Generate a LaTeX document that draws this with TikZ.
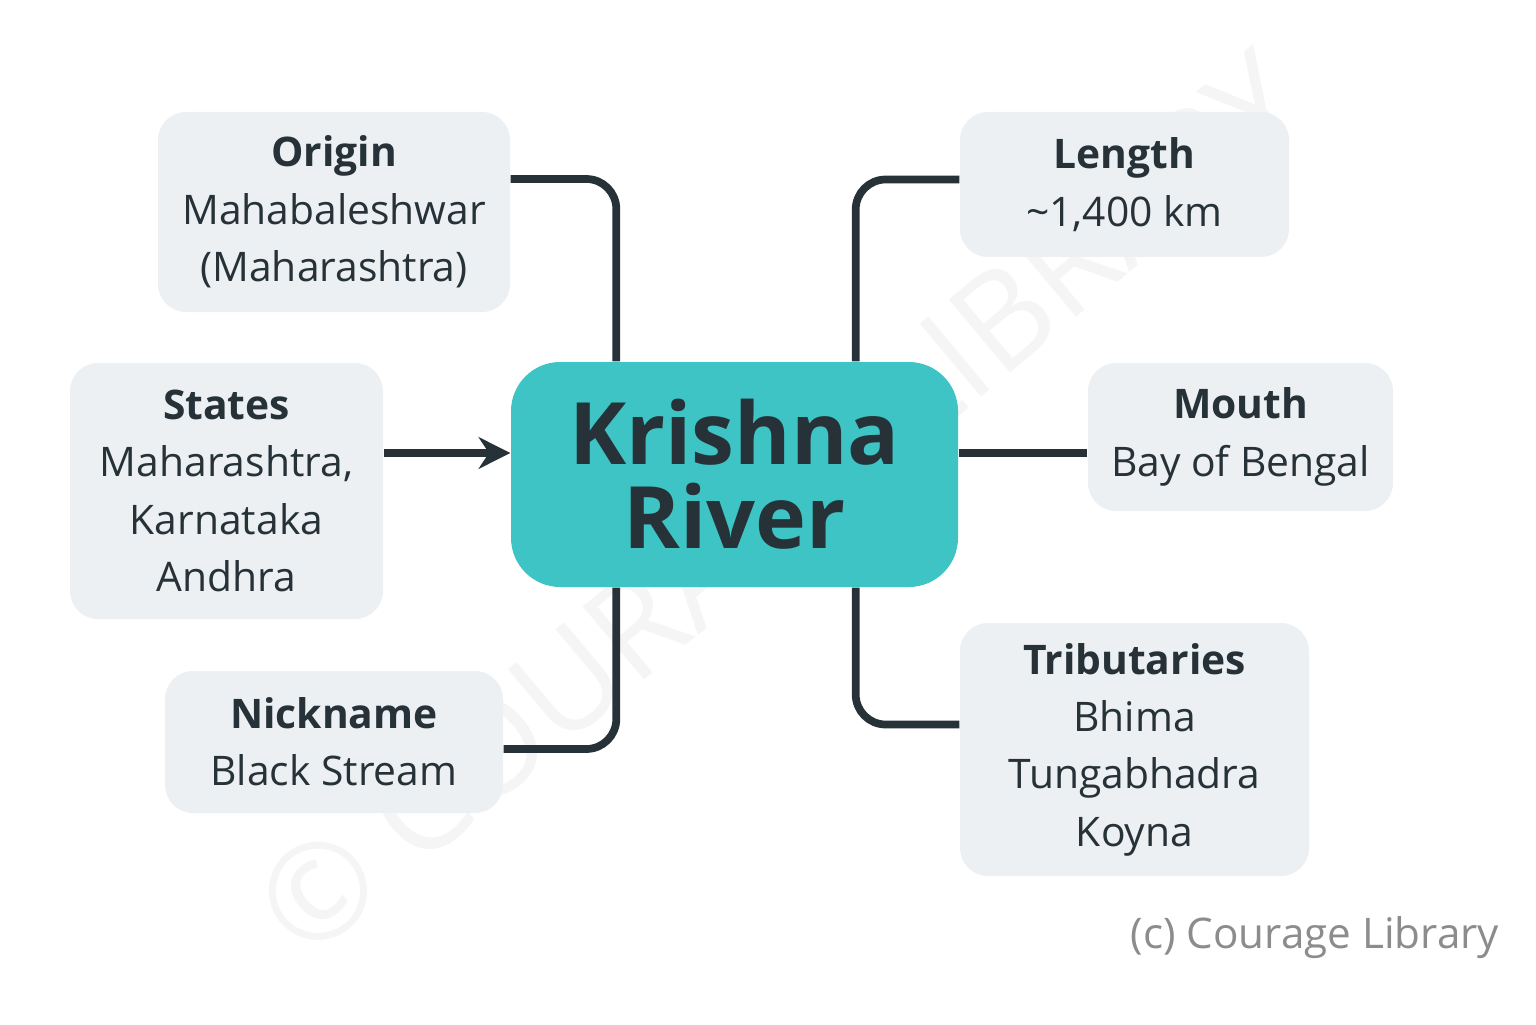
\documentclass[tikz,border=0pt]{standalone}
\usepackage{fontspec}
\setmainfont{Open Sans}
\usetikzlibrary{arrows.meta}
\definecolor{boxfill}{HTML}{ECF0F3}
\definecolor{teal}{HTML}{3EC4C4}
\definecolor{ink}{HTML}{263238}
\begin{document}
\begin{tikzpicture}[
    info/.style={rectangle, rounded corners=8pt, fill=boxfill, align=center, text=ink, font=\fontsize{11.6}{16.3}\selectfont},
    hub/.style={rectangle, rounded corners=14pt, fill=teal, align=center, text=ink, font=\fontsize{24.5}{24}\selectfont\bfseries},
    link/.style={line width=2.2pt, draw=ink, rounded corners=0.3cm},
    arrow/.style={link, -{Stealth[length=9pt,width=9pt]}}
]
\useasboundingbox[fill=white] (0,0) rectangle (15.36,10.24);
% Watermark
\node[rotate=40, text=black!4, font=\fontsize{38}{38}\selectfont] (mark) at (7.8,5.2) {\textcopyright\ COURAGE LIBRARY};

% Center
\node[hub, minimum width=4.47cm, minimum height=2.25cm] (river) at (7.345,5.495) {Krishna\\River};

% Info boxes
\node[info, minimum width=3.52cm, minimum height=2.0cm] (origin) at (3.34,8.12) {\textbf{Origin}\\Mahabaleshwar\\(Maharashtra)};
\node[info, minimum width=3.13cm, minimum height=2.56cm] (states) at (2.265,5.33) {\textbf{States}\\Maharashtra,\\Karnataka\\Andhra};
\node[info, minimum width=3.38cm, minimum height=1.42cm] (nick) at (3.34,2.82) {\textbf{Nickname}\\Black Stream};
\node[info, minimum width=3.29cm, minimum height=1.45cm] (length) at (11.245,8.395) {\textbf{Length}\\\textasciitilde1,400 km};
\node[info, minimum width=3.05cm, minimum height=1.48cm] (mouth) at (12.405,5.87) {\textbf{Mouth}\\Bay of Bengal};
\node[info, minimum width=3.49cm, minimum height=2.53cm] (trib) at (11.345,2.745) {\textbf{Tributaries}\\Bhima\\Tungabhadra\\Koyna};

% Connectors
\draw[link] ([yshift=3.3mm]origin.east) -| ([xshift=10.6mm]river.north west);
\draw[arrow] ([yshift=3.8mm]states.east) -- ([yshift=3.8mm]states.east -| river.west);
\draw[link] ([yshift=-0.7mm]nick.east) -| ([xshift=10.6mm]river.south west);
\draw[link] ([yshift=0.5mm]length.west) -| ([xshift=-10.3mm]river.north east);
\draw[link] ([yshift=-1.6mm]mouth.west) -- ([yshift=-1.6mm]mouth.west -| river.east);
\draw[link] ([yshift=2.5mm]trib.west) -| ([xshift=-10.3mm]river.south east);

% Credit
\node[text=black!45, font=\fontsize{12}{12}\selectfont] (credit) at (13.15,0.86) {(c) Courage Library};
\end{tikzpicture}
\end{document}
